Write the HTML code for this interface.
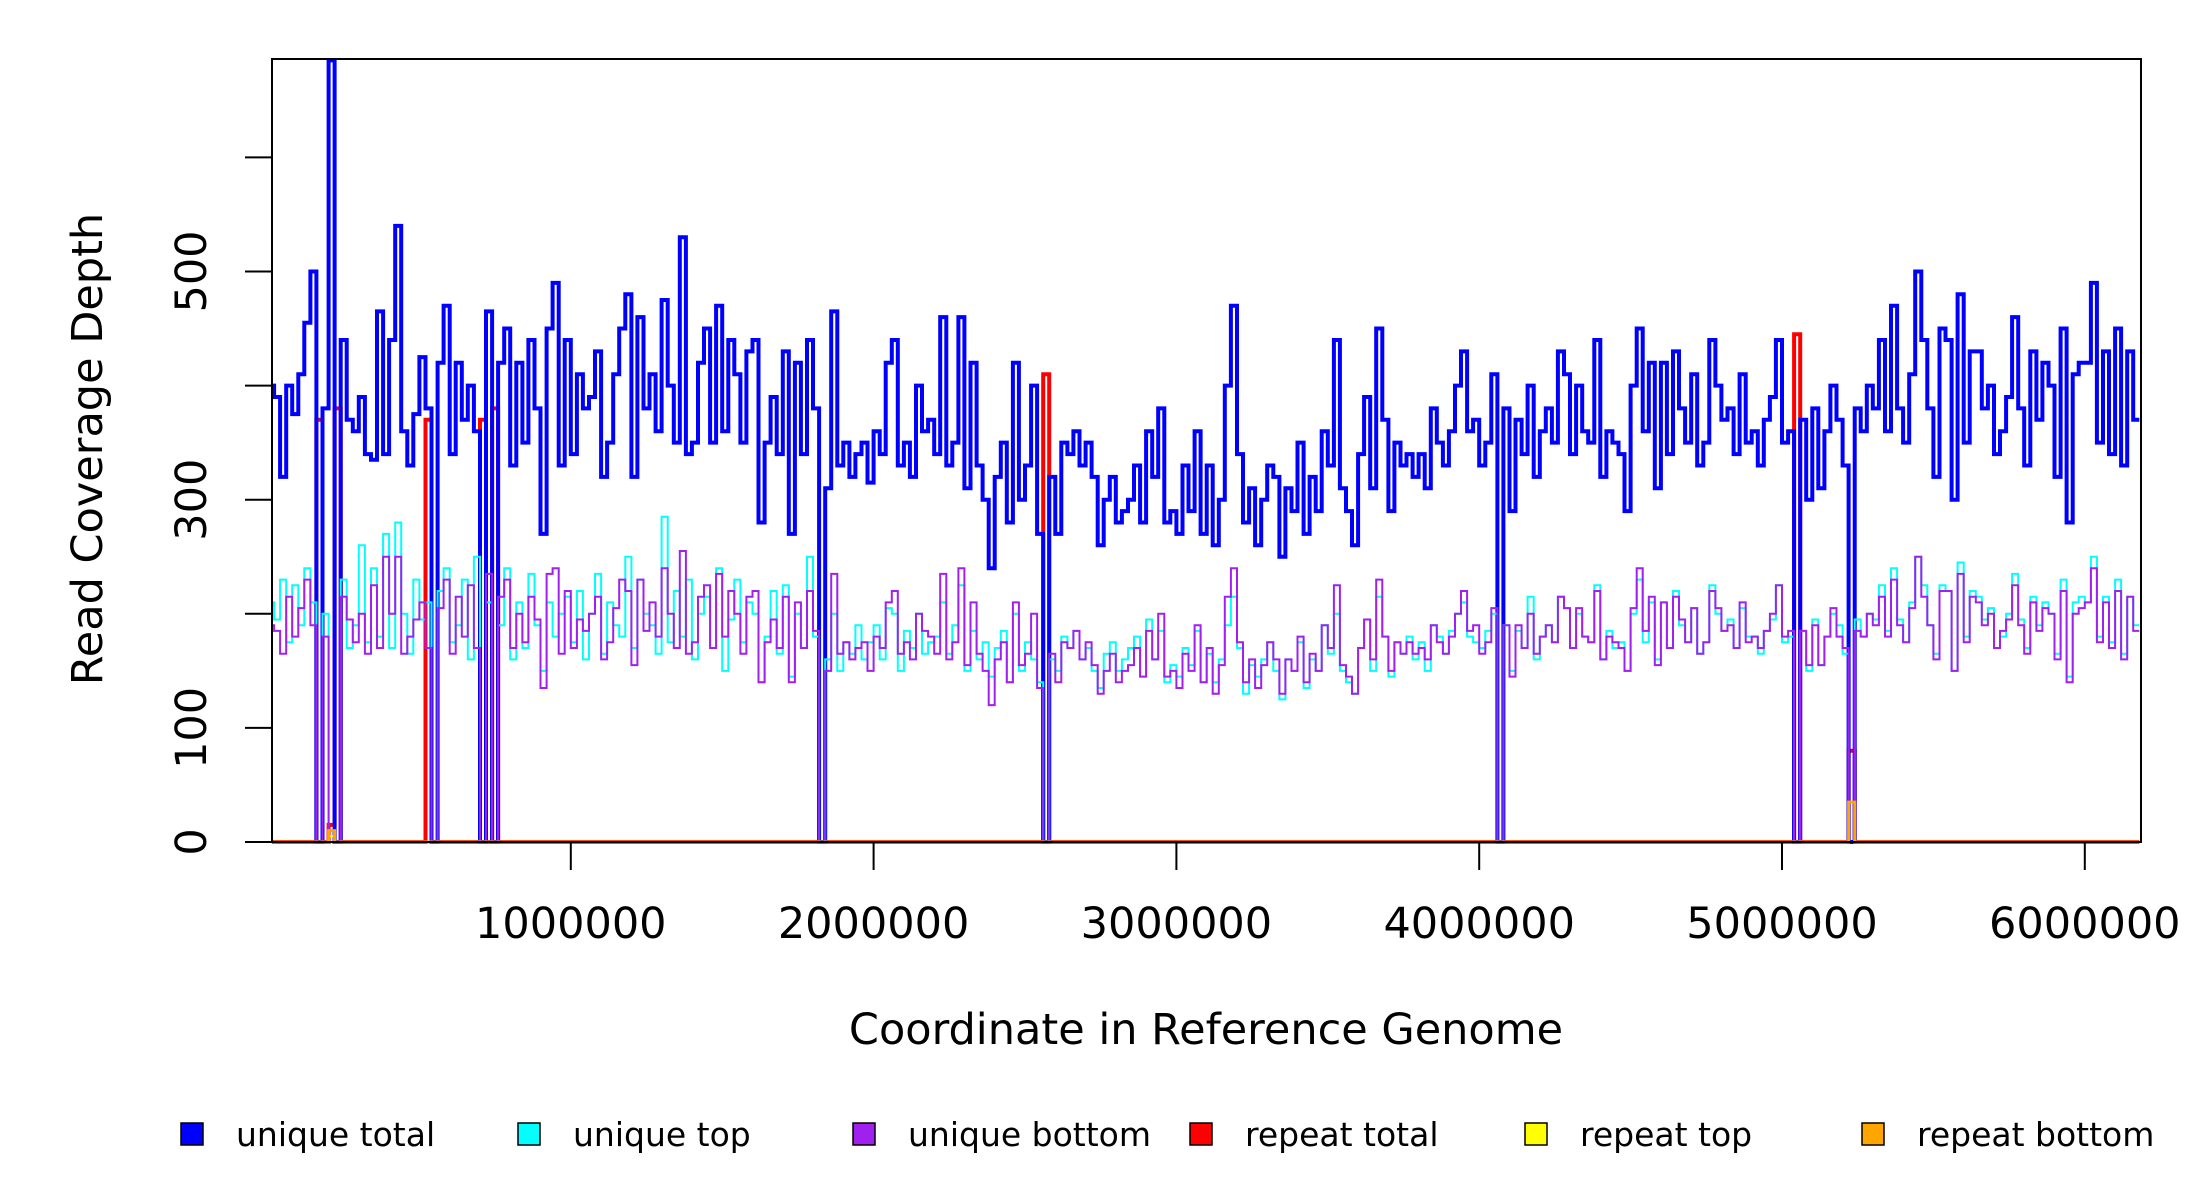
<!DOCTYPE html>
<html><head><meta charset="utf-8"><style>
html,body{margin:0;padding:0;background:#fff;}
svg{display:block;font-family:"DejaVu Sans","Liberation Sans",sans-serif;}
</style></head><body>
<svg id="chart" width="2200" height="1200" viewBox="0 0 2200 1200" xmlns="http://www.w3.org/2000/svg">
<defs><clipPath id="plotclip"><rect x="272" y="59" width="1869" height="786"/></clipPath></defs>
<g id="series" clip-path="url(#plotclip)"></g>
<rect x="272" y="59" width="1869" height="783" fill="none" stroke="#000" stroke-width="2"/>
<g id="axes"></g>
<text x="1206" y="1044" text-anchor="middle" font-size="43">Coordinate in Reference Genome</text>
<text transform="translate(102,449) rotate(-90)" text-anchor="middle" font-size="43">Read Coverage Depth</text>
<g id="legend"></g>
</svg>
<script>
const binSize = 20000;
const uniqueTotal = [
400,390,320,400,375,410,455,500,0,380,
685,0,440,370,360,390,340,335,465,340,
440,540,360,330,375,425,380,0,420,470,
340,420,370,400,360,0,465,0,420,450,
330,420,350,440,380,270,450,490,330,440,
340,410,380,390,430,320,350,410,450,480,
320,460,380,410,360,475,400,350,530,340,
350,420,450,350,470,360,440,410,350,430,
440,280,350,390,340,430,270,420,340,440,
380,0,310,465,330,350,320,340,350,315,
360,340,420,440,330,350,320,400,360,370,
340,460,330,350,460,310,420,330,300,240,
320,350,280,420,300,330,400,270,0,320,
270,350,340,360,330,350,320,260,300,320,
280,290,300,330,280,360,320,380,280,290,
270,330,290,360,270,330,260,300,400,470,
340,280,310,260,300,330,320,250,310,290,
350,270,320,290,360,330,440,310,290,260,
340,390,310,450,370,290,350,330,340,320,
340,310,380,350,330,360,400,430,360,370,
330,350,410,0,380,290,370,340,400,320,
360,380,350,430,410,340,400,360,350,440,
320,360,350,340,290,400,450,360,420,310,
420,340,430,380,350,410,330,350,440,400,
370,380,340,410,350,360,330,370,390,440,
350,360,0,370,300,380,310,360,400,370,
330,0,380,360,400,380,440,360,470,380,
350,410,500,440,380,320,450,440,300,480,
350,430,430,380,400,340,360,390,460,380,
330,430,370,420,400,320,450,280,410,420,
420,490,350,430,340,450,330,430,370];
const uniqueTop = [
210,195,230,175,225,190,240,210,0,200,
0,0,230,170,190,260,175,240,180,270,
170,280,200,165,230,195,210,0,220,240,
175,190,230,160,250,0,210,0,190,240,
160,210,170,235,190,150,210,180,200,215,
175,220,160,200,235,165,210,190,180,250,
170,230,200,190,165,285,175,220,180,230,
160,200,215,170,240,150,195,230,175,210,
200,140,180,220,165,225,145,200,170,250,
180,0,160,200,150,175,165,190,160,175,
190,160,205,200,150,185,170,200,165,175,
180,210,165,190,225,150,185,160,175,145,
170,185,140,200,150,175,160,140,0,160,
150,180,170,185,160,170,150,135,165,175,
150,160,170,180,145,195,160,185,140,155,
145,170,155,185,140,165,140,160,190,215,
170,130,155,145,160,175,150,125,160,150,
175,135,160,150,190,165,200,150,140,130,
170,195,150,215,180,145,175,165,180,160,
175,150,190,180,165,185,200,210,180,175,
170,185,200,0,190,150,185,170,215,160,
180,190,175,215,205,170,200,180,175,225,
160,185,170,175,150,200,230,175,210,160,
210,170,220,190,175,205,165,175,225,200,
185,195,170,205,180,180,165,185,195,225,
175,180,0,185,150,195,155,180,200,190,
165,0,195,180,200,195,225,185,240,195,
175,210,250,225,190,165,225,220,150,245,
180,220,215,195,205,170,180,200,235,195,
170,215,190,210,200,165,230,145,210,215,
210,250,180,215,175,230,165,215,190];
const uniqueBottom = [
190,185,165,215,180,205,230,190,0,180,
0,0,215,195,175,200,165,225,170,250,
200,250,165,180,195,210,170,0,205,230,
165,215,180,225,170,0,235,0,215,230,
170,200,175,215,195,135,235,240,165,220,
170,195,185,200,215,160,175,205,230,220,
155,230,185,210,180,240,200,170,255,165,
175,215,225,170,235,180,220,200,165,215,
220,140,175,195,170,215,140,210,170,220,
185,0,150,235,165,175,160,170,175,150,
180,170,210,220,165,175,160,200,185,180,
165,235,160,175,240,155,210,165,150,120,
160,175,140,210,155,165,200,135,0,165,
140,175,170,185,160,175,155,130,150,165,
140,150,155,170,145,185,160,200,145,150,
135,165,150,190,140,170,130,155,215,240,
175,140,160,135,155,175,160,130,160,150,
180,140,165,150,190,170,225,155,145,130,
170,195,160,230,180,150,175,165,175,165,
170,160,190,175,165,180,200,220,185,190,
165,175,205,0,190,145,190,170,200,165,
180,190,175,215,205,170,205,180,175,220,
160,180,175,170,150,205,240,185,215,155,
210,170,215,195,175,205,165,175,220,205,
185,190,170,210,175,180,170,185,200,225,
180,185,0,185,155,190,155,180,205,180,
170,0,185,180,200,190,215,180,230,190,
175,205,250,215,190,160,220,220,150,235,
175,215,210,190,200,170,185,195,225,190,
165,210,185,205,200,160,220,140,200,205,
210,240,175,210,170,220,160,215,185];
const repeatBins = [8, 10, 11, 26, 35, 37, 128, 252, 261];
const repeatTotalVals = [370, 15, 380, 370, 370, 380, 410, 445, 80];
const repeatTopVals = [0, 5, 0, 0, 0, 0, 0, 0, 0];
const repeatBottomVals = [0, 10, 0, 0, 0, 0, 0, 0, 35];
const xTicks = [1000000, 2000000, 3000000, 4000000, 5000000, 6000000];
const xTickLabels = ["1000000","2000000","3000000","4000000","5000000","6000000"];
const yTicks = [0, 100, 200, 300, 400, 500, 600];
const yTickLabels = ["0","100","","300","","500",""];
const legendLabels = ["unique total","unique top","unique bottom","repeat total","repeat top","repeat bottom"];
const legendColors = ["#0000ff","#00ffff","#a020f0","#ff0000","#ffff00","#ffa500"];

const NS = "http://www.w3.org/2000/svg";
function xs(v){ return 268 + v * 302.8e-6; }
function ys(v){ return 842 - v * 1.141; }
function expand(vals){
  const a = new Array(uniqueTotal.length).fill(0);
  repeatBins.forEach((b,i)=>{ a[b] = vals[i]; });
  return a;
}
function stepPath(arr){
  let d = "M" + xs(0).toFixed(1) + "," + ys(arr[0]).toFixed(1);
  for(let i=0;i<arr.length;i++){
    d += "H" + xs((i+1)*binSize).toFixed(1);
    if(i+1<arr.length) d += "V" + ys(arr[i+1]).toFixed(1);
  }
  return d;
}
const g = document.getElementById("series");
function addSeries(arr, color, w, name){
  const p = document.createElementNS(NS,"path");
  p.setAttribute("d", stepPath(arr));
  p.setAttribute("fill","none");
  p.setAttribute("stroke",color);
  p.setAttribute("stroke-width",w);
  
  
  g.appendChild(p);
}
addSeries(expand(repeatTotalVals), "#ff0000", 4, "repeat-total-line");
addSeries(uniqueTotal, "#0000ff", 4, "unique-total-line");
addSeries(uniqueTop, "#00ffff", 2, "unique-top-line");
addSeries(uniqueBottom, "#a020f0", 2, "unique-bottom-line");
addSeries(expand(repeatTopVals), "#ffff00", 2, "repeat-top-line");
addSeries(expand(repeatBottomVals), "#ffa500", 3, "repeat-bottom-line");

const ax = document.getElementById("axes");
xTicks.forEach((t,i)=>{
  const l = document.createElementNS(NS,"line");
  l.setAttribute("x1",xs(t)); l.setAttribute("x2",xs(t));
  l.setAttribute("y1",842); l.setAttribute("y2",870);
  l.setAttribute("stroke","#000"); l.setAttribute("stroke-width",2);
  
  
  ax.appendChild(l);
  const tx = document.createElementNS(NS,"text");
  tx.setAttribute("x",xs(t)); tx.setAttribute("y",938);
  tx.setAttribute("text-anchor","middle"); tx.setAttribute("font-size","43");
  tx.textContent = xTickLabels[i];
  
  
  ax.appendChild(tx);
});
yTicks.forEach((t,i)=>{
  const l = document.createElementNS(NS,"line");
  l.setAttribute("x1",245); l.setAttribute("x2",272);
  l.setAttribute("y1",ys(t)); l.setAttribute("y2",ys(t));
  l.setAttribute("stroke","#000"); l.setAttribute("stroke-width",2);
  
  
  ax.appendChild(l);
  if(yTickLabels[i]){
    const tx = document.createElementNS(NS,"text");
    tx.setAttribute("transform","translate(206,"+ys(t)+") rotate(-90)");
    tx.setAttribute("text-anchor","middle"); tx.setAttribute("font-size","43");
    tx.textContent = yTickLabels[i];
    
    
    ax.appendChild(tx);
  }
});
const lg = document.getElementById("legend");
const legendX = [192, 529, 864, 1201, 1536, 1873];
legendLabels.forEach((lab,i)=>{
  const grp = document.createElementNS(NS,"g");
  
  
  const r = document.createElementNS(NS,"rect");
  r.setAttribute("x",legendX[i]-11); r.setAttribute("y",1123);
  r.setAttribute("width",22); r.setAttribute("height",22);
  r.setAttribute("fill",legendColors[i]); r.setAttribute("stroke","#000"); r.setAttribute("stroke-width",1.5);
  
  
  grp.appendChild(r);
  const tx = document.createElementNS(NS,"text");
  tx.setAttribute("x",legendX[i]+44); tx.setAttribute("y",1146);
  tx.setAttribute("font-size","33");
  tx.textContent = lab;
  
  
  grp.appendChild(tx);
  lg.appendChild(grp);
});
</script>
</body></html>
